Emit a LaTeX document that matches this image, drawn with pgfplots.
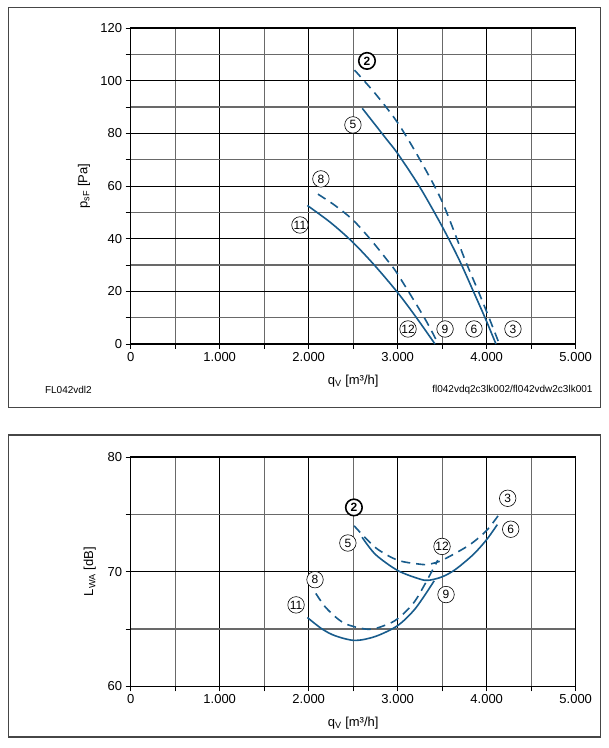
\documentclass[border=0pt]{standalone}
\usepackage{pgfplots}
\pgfplotsset{compat=1.18}
\usepackage{fontspec}
\setmainfont{Liberation Sans}
\definecolor{curve}{RGB}{24,92,140}
\definecolor{minorgrid}{RGB}{105,105,105}
\definecolor{framec}{RGB}{70,70,70}

\tikzset{
  solidc/.style={curve, line width=1.6pt, smooth},
  dashc/.style={curve, line width=1.6pt, smooth, dash pattern=on 9pt off 6pt},
  lbl/.style={circle, draw=black, fill=white, inner sep=0pt, minimum size=16.5pt, line width=0.6pt, font=\fontsize{12}{13}\selectfont},
  lblb/.style={circle, draw=black, fill=white, inner sep=0pt, minimum size=16.5pt, line width=1.6pt, font=\fontsize{12}{13}\selectfont\bfseries},
}

\pgfplotsset{
  fanaxis/.style={
    scale only axis,
    anchor=south west,
    width=445pt,
    xmin=0, xmax=5000,
    xtick={0,1000,2000,3000,4000,5000},
    xticklabels={0,1.000,2.000,3.000,4.000,5.000},
    minor xtick={500,1500,2500,3500,4500},
    grid=both,
    major grid style={black, line width=0.9pt},
    minor grid style={minorgrid, line width=1.3pt},
    tick align=outside,
    tick pos=left,
    major tick length=5pt,
    minor tick length=5pt,
    every tick/.style={black, line width=0.9pt},
    minor tick style={black, line width=0.9pt},
    axis line style={black, line width=1.3pt},
    ticklabel style={font=\fontsize{13}{15}\selectfont},
    label style={font=\fontsize{13}{15}\selectfont},
    /pgf/number format/assume math mode=true,
    /pgf/number format/1000 sep={},
    clip=false,
  },
}

\begin{document}
\begin{tikzpicture}[x=1pt,y=1pt]
\path[use as bounding box] (0,0) rectangle (609,748);
\draw[framec, line width=1.3pt] (8.5,340.5) rectangle (600.5,740.5);
\draw[framec, line width=1.3pt] (8.5,11) rectangle (600.5,313);

\node[anchor=center, font=\fontsize{10}{12}\selectfont] at (68.4,358.4) {FL042vdl2};
\node[anchor=east, font=\fontsize{10}{12}\selectfont] at (596,358.4) {fl042vdq2c3lk002/fl042vdw2c3lk001};

% ---------- top panel ----------
\begin{axis}[fanaxis,
  at={(130.7pt,404pt)},
  height=316pt,
  ymin=0, ymax=120,
  ytick={0,20,40,60,80,100,120},
  minor ytick={10,30,50,70,90,110},
  xlabel={q$_{\mathrm{V}}$ [m³/h]},
  ylabel={p$_{\mathrm{sF}}$ [Pa]},
  xlabel style={at={(axis description cs:0.5,-0.117)}, anchor=center},
  ylabel style={at={(axis description cs:-0.105,0.5)}, anchor=center},
]
\addplot[dashc] coordinates {(2515,104) (2750,95) (3000,84) (3250,70) (3500,54) (3756,32) (3906,20) (4026,10) (4142,0)};
\addplot[solidc] coordinates {(2602,89.5) (2876,77.7) (3000,72.3) (3250,59.5) (3500,44.6) (3692,31.9) (3850,20) (3981,10) (4104,0)};
\addplot[dashc] coordinates {(2104,56.9) (2300,52.5) (2500,47) (2700,39.5) (2895,31.3) (3000,26.5) (3299,10) (3456,0)};
\addplot[solidc] coordinates {(1985,52.6) (2250,46) (2500,38.5) (2750,29.5) (3000,19.5) (3200,10.5) (3419,0)};
\node[lblb] at (axis cs:2655,107.5) {2};
\node[lbl] at (axis cs:2497,83.2) {5};
\node[lbl] at (axis cs:2137,62.7) {8};
\node[lbl] at (axis cs:1902,45.2) {11};
\node[lbl] at (axis cs:3116,5.7) {12};
\node[lbl] at (axis cs:3532,5.7) {9};
\node[lbl] at (axis cs:3857,5.7) {6};
\node[lbl] at (axis cs:4295,5.7) {3};
\end{axis}

% ---------- bottom panel ----------
\begin{axis}[fanaxis,
  at={(130.7pt,61.7pt)},
  height=229.3pt,
  ymin=60, ymax=80,
  ytick={60,70,80},
  minor ytick={65,75},
  xlabel={q$_{\mathrm{V}}$ [m³/h]},
  ylabel={L$_{\mathrm{WA}}$ [dB]},
  xlabel style={at={(axis description cs:0.5,-0.161)}, anchor=center},
  ylabel style={at={(axis description cs:-0.092,0.5)}, anchor=center},
]
\addplot[dashc] coordinates {(2510,74.0) (2750,72.1) (3000,71.0) (3250,70.65) (3350,70.65) (3500,71.0) (3800,72.3) (4000,73.6) (4149,75.1)};
\addplot[solidc] coordinates {(2600,73.0) (2750,71.5) (3000,70.1) (3250,69.35) (3350,69.25) (3500,69.55) (3650,70.2) (3850,71.5) (4000,72.8) (4119,74.1)};
\addplot[dashc] coordinates {(2080,68.1) (2200,66.8) (2400,65.5) (2670,64.97) (2850,65.3) (3000,65.9) (3200,67.5) (3450,71.0)};
\addplot[solidc] coordinates {(1985,66.0) (2150,65.0) (2300,64.4) (2520,64.0) (2750,64.35) (3000,65.3) (3200,66.8) (3410,69.2)};
\node[lblb] at (axis cs:2508,75.6) {2};
\node[lbl] at (axis cs:2440,72.5) {5};
\node[lbl] at (axis cs:3498,72.2) {12};
\node[lbl] at (axis cs:3543,68.0) {9};
\node[lbl] at (axis cs:4236,76.4) {3};
\node[lbl] at (axis cs:4270,73.7) {6};
\node[lbl] at (axis cs:2071,69.3) {8};
\node[lbl] at (axis cs:1858,67.1) {11};
\end{axis}
\end{tikzpicture}
\end{document}
